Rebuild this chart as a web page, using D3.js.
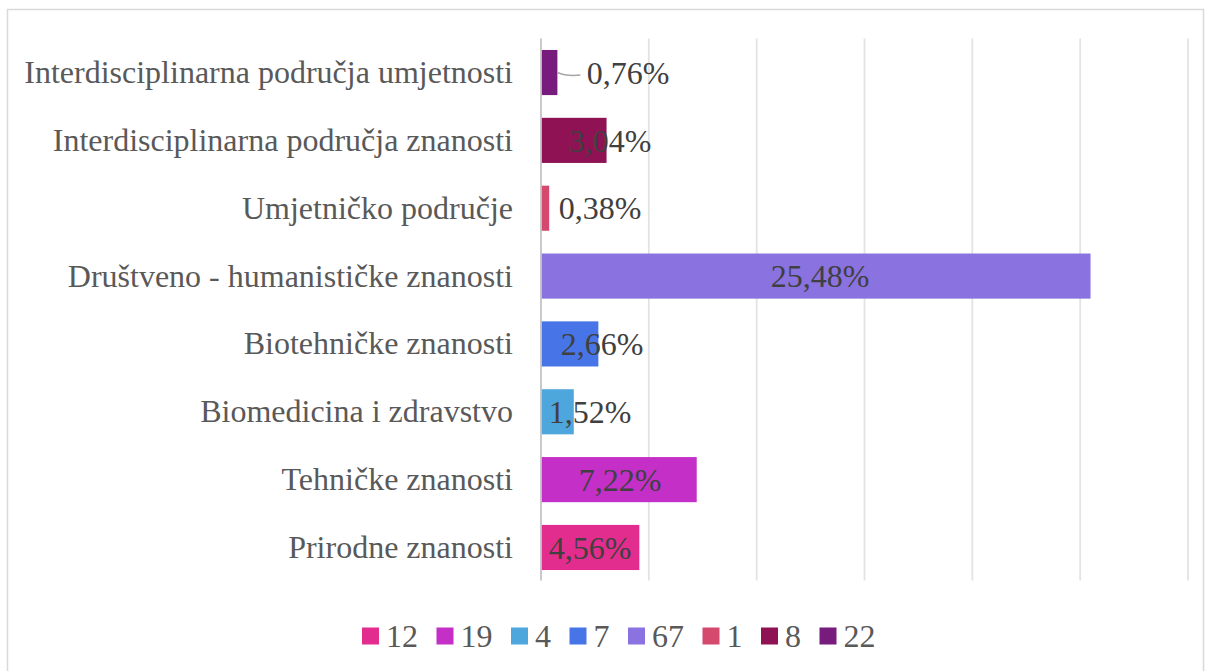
<!DOCTYPE html>
<html>
<head>
<meta charset="utf-8">
<script src="https://cdn.jsdelivr.net/npm/d3@7/dist/d3.min.js"></script>
<style>
  html, body { margin: 0; padding: 0; background: #fff; }
  svg { display: block; }
</style>
</head>
<body>
<svg id="chart" width="1206" height="671"></svg>
<script>
// ---- data ----
const categories = [
  "Prirodne znanosti",
  "Tehničke znanosti",
  "Biomedicina i zdravstvo",
  "Biotehničke znanosti",
  "Društveno - humanističke znanosti",
  "Umjetničko područje",
  "Interdisciplinarna područja znanosti",
  "Interdisciplinarna područja umjetnosti"
];
const percentValues = [4.56, 7.22, 1.52, 2.66, 25.48, 0.38, 3.04, 0.76];
const legendLabels = ["12", "19", "4", "7", "67", "1", "8", "22"];
const xTicks = [0, 5, 10, 15, 20, 25, 30];

// ---- styling / layout (not data) ----
const FONT = "'Liberation Serif', 'Times New Roman', serif";
const colors = ["#E32D8E", "#C42FC8", "#4EA7DC", "#4775E7", "#8A72E0", "#D6496F", "#8F1255", "#771C7C"];
// data-label centre positions, px from the value axis origin
const labelCenters = [49, 79, 49, 61, 279, 59, 69, 87];

const svg = d3.select("#chart").attr("font-family", FONT);

// outer border
svg.append("rect")
  .attr("x", 7.5).attr("y", 9.5)
  .attr("width", 1196).attr("height", 680)
  .attr("fill", "none").attr("stroke", "#d9d9d9").attr("stroke-width", 1.5);

const x0 = 541, x1 = 1188;
const yTop = 38.6, yBot = 581.4;

const x = d3.scaleLinear().domain([0, 30]).range([x0, x1]);
const y = d3.scaleBand()
  .domain(categories.slice().reverse())
  .range([yTop, yBot])
  .paddingInner(0.335).paddingOuter(0.1675);

// gridlines
svg.append("g").selectAll("line")
  .data(xTicks.slice(1))
  .join("line")
  .attr("x1", d => x(d)).attr("x2", d => x(d))
  .attr("y1", yTop).attr("y2", yBot - 1)
  .attr("stroke", "#e3e3e3").attr("stroke-width", 1.8);

// bars
svg.append("g").selectAll("rect")
  .data(categories)
  .join("rect")
  .attr("x", x(0))
  .attr("y", d => y(d))
  .attr("width", (d, i) => x(percentValues[i]) - x(0))
  .attr("height", y.bandwidth())
  .attr("fill", (d, i) => colors[i]);

// category axis line
svg.append("line")
  .attr("x1", x(0)).attr("x2", x(0))
  .attr("y1", yTop).attr("y2", yBot - 1)
  .attr("stroke", "#c4c4c4").attr("stroke-width", 1.8);

// category labels
const yAxis = d3.axisLeft(y).tickSize(0).tickPadding(28);
const gy = svg.append("g").attr("transform", `translate(${x(0)},0)`).call(yAxis);
gy.select(".domain").remove();
gy.attr("font-family", FONT).attr("font-size", 32);
gy.selectAll("text")
  .attr("fill", "#595959")
  .attr("dy", "0.33em");

// leader line for the smallest label
const lastIdx = categories.length - 1;
const cyL = y(categories[lastIdx]) + y.bandwidth() / 2;
const lx = x(percentValues[lastIdx]);
svg.append("path")
  .attr("d", `M${lx},${cyL} Q${lx + 9},${cyL + 4} ${lx + 23},${cyL + 2.5}`)
  .attr("fill", "none").attr("stroke", "#a6a6a6").attr("stroke-width", 1.5);

// data labels
svg.append("g").attr("font-family", FONT).selectAll("text")
  .data(categories)
  .join("text")
  .attr("x", (d, i) => x(0) + labelCenters[i])
  .attr("y", d => y(d) + y.bandwidth() / 2)
  .attr("dy", "0.35em")
  .attr("text-anchor", "middle")
  .attr("font-size", 32)
  .attr("fill", "#404040")
  .text((d, i) => percentValues[i].toFixed(2).replace(".", ",") + "%");

// legend
const legend = svg.append("g").attr("font-family", FONT);
const items = legend.selectAll("g").data(legendLabels).join("g");
items.append("rect")
  .attr("width", 17).attr("height", 17)
  .attr("y", -8.5)
  .attr("fill", (d, i) => colors[i]);
items.append("text")
  .attr("x", 24)
  .attr("dy", "0.35em")
  .attr("font-size", 32)
  .attr("fill", "#595959")
  .text(d => d);
let cx = 0;
items.each(function () {
  const g = d3.select(this);
  g.attr("transform", `translate(${cx},0)`);
  const tw = g.select("text").node().getComputedTextLength();
  cx += 24 + tw + 18.5;
});
legend.attr("transform", `translate(${362},636)`);
</script>
</body>
</html>
